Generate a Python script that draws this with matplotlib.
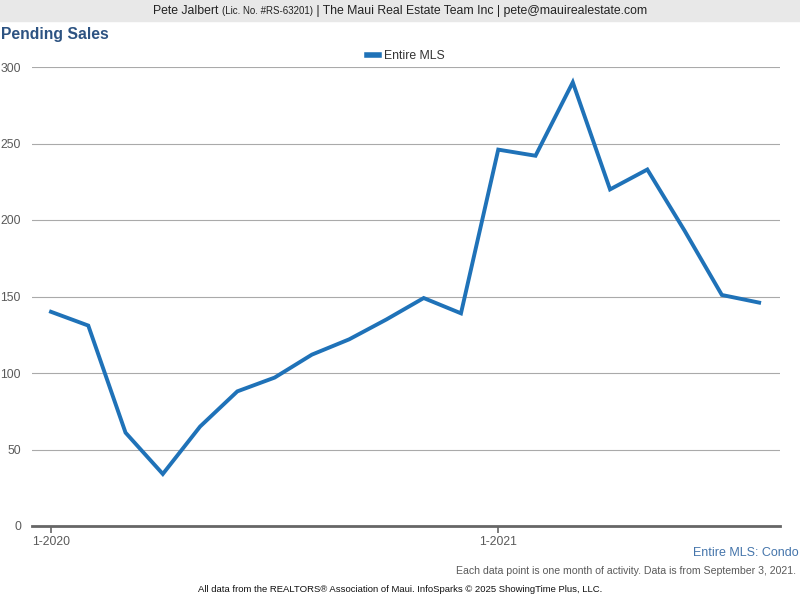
import numpy as np
import matplotlib
matplotlib.use('Agg')
import matplotlib.pyplot as plt
from matplotlib.lines import Line2D

plt.rcParams['font.family'] = ['Liberation Sans', 'DejaVu Sans']

# Monthly pending sales, Jan 2020 - Aug 2021
months = ['1-2020', '2-2020', '3-2020', '4-2020', '5-2020', '6-2020', '7-2020', '8-2020',
          '9-2020', '10-2020', '11-2020', '12-2020', '1-2021', '2-2021', '3-2021', '4-2021',
          '5-2021', '6-2021', '7-2021', '8-2021']
pending = [140, 131, 61, 34, 65, 88, 97, 112, 122, 135, 149, 139,
           246, 242, 290, 220, 233, 193, 151, 146]
tick_labels = ['1-2020', '1-2021']
y_ticks = [0, 50, 100, 150, 200, 250, 300]

blue = '#1f72b8'
gray_txt = '#5a5a5a'

fig = plt.figure(figsize=(8, 6), dpi=100)

# header band
fig.patches.append(plt.Rectangle((0, 1 - 21 / 600), 1, 21 / 600, transform=fig.transFigure,
                                 color='#e8e8e8', zorder=0))

ax = fig.add_axes([32 / 800, 74 / 600, 748 / 800, 459 / 600])
x = np.arange(len(pending))
ax.plot(x, pending, color=blue, lw=2.8, solid_joinstyle='miter', zorder=3)

ax.set_xlim(-0.51, 19.56)
ax.set_ylim(0, 300)
ax.set_yticks(y_ticks)
ax.set_yticklabels([str(v) for v in y_ticks], color=gray_txt, fontsize=8.8)
ax.set_xticks([months.index(t) for t in tick_labels])
ax.set_xticklabels(tick_labels, color=gray_txt, fontsize=8.8)
ax.tick_params(axis='y', length=0, pad=8)
ax.tick_params(axis='x', length=5, width=1.2, color='#666666', direction='out', pad=2.5)
for s in ['top', 'right', 'left']:
    ax.spines[s].set_visible(False)
ax.spines['bottom'].set_color('#666666')
ax.spines['bottom'].set_linewidth(2)
ax.grid(axis='y', color='#aaaaaa', lw=0.8)
ax.set_axisbelow(True)

# legend
leg = ax.legend(handles=[Line2D([], [], color=blue, lw=4)], labels=['Entire MLS'],
                loc='lower center', bbox_to_anchor=(0.5, 1.0), frameon=False,
                fontsize=8.8, handlelength=1.0, handletextpad=0.4, borderaxespad=0.0)
for t in leg.get_texts():
    t.set_color('#333333')

# header text pieces
fig.canvas.draw()
r = fig.canvas.get_renderer()
parts = [('Pete Jalbert ', 8.8), ('(Lic. No. #RS-63201)', 7),
         (' | The Maui Real Estate Team Inc | pete@mauirealestate.com', 8.8)]
texts = [fig.text(0, 1 - 11 / 600, p, fontsize=fs, va='center', color='#222222') for p, fs in parts]
widths = [t.get_window_extent(r).width for t in texts]
xpos = 400 - sum(widths) / 2
for t, w in zip(texts, widths):
    t.set_x(xpos / 800)
    xpos += w

fig.text(1 / 800, 1 - 34 / 600, 'Pending Sales', fontsize=11.3, fontweight='bold',
         color='#2d5382', va='center')
fig.text(799 / 800, 1 - 553 / 600, 'Entire MLS: Condo', fontsize=9, color='#4575ab',
         ha='right', va='center')
fig.text(796 / 800, 1 - 571 / 600,
         'Each data point is one month of activity. Data is from September 3, 2021.',
         fontsize=7.6, color=gray_txt, ha='right', va='center')
fig.text(400 / 800, 1 - 590 / 600,
         'All data from the REALTORS® Association of Maui. InfoSparks © 2025 ShowingTime Plus, LLC.',
         fontsize=6.8, color='#111111', ha='center', va='center')

fig.savefig('out.png', dpi=100)
